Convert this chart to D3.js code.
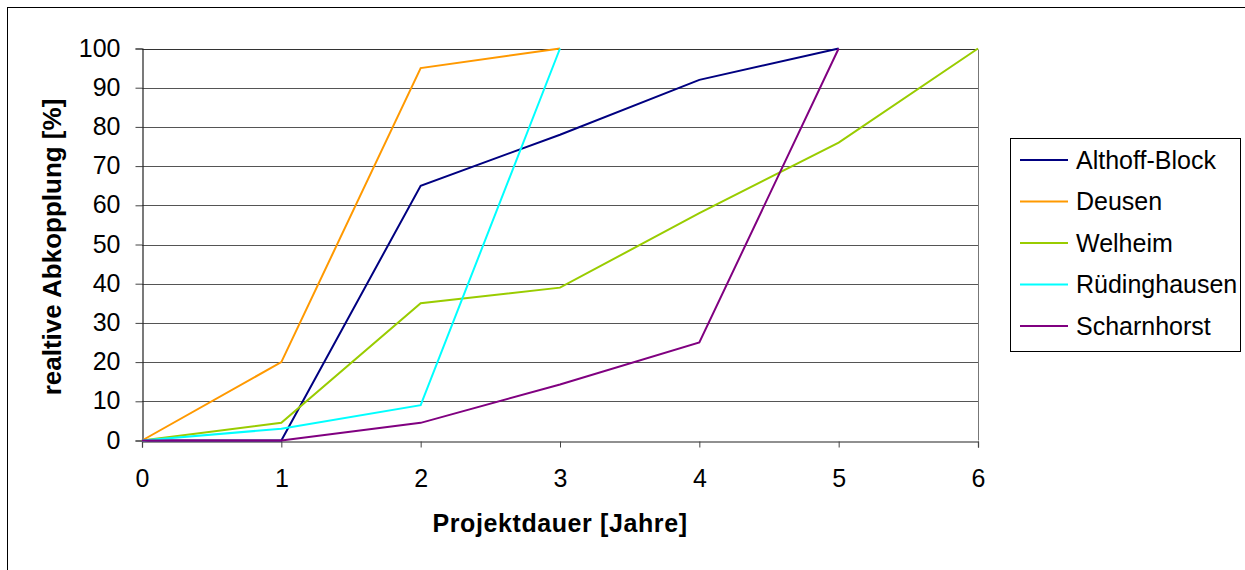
<!DOCTYPE html>
<html><head><meta charset="utf-8">
<script src="https://cdn.jsdelivr.net/npm/d3@7"></script>
<style>body{margin:0;background:#fff;} svg{display:block;font-family:"Liberation Sans",Arial,sans-serif;}</style>
</head><body><svg id="c" width="1245" height="570"></svg>
<script>
const years = [0,1,2,3,4,5,6];
const seriesNames = ["Althoff-Block","Deusen","Welheim","Rüdinghausen","Scharnhorst"];
const althoff = [0,0,65,78,92,100];
const deusen = [0,20,95,100];
const welheim = [0,4.5,35,39,58,76,100];
const ruedinghausen = [0,3,9,100];
const scharnhorst = [0,0,4.5,14.3,25,100];
const seriesColors = ["#000080","#FF9900","#99CC00","#00FFFF","#800080"];
const yTicks = [0,10,20,30,40,50,60,70,80,90,100];
const xTitle = "Projektdauer [Jahre]";
const yTitle = "realtive Abkopplung [%]";

const allSeries = [althoff,deusen,welheim,ruedinghausen,scharnhorst];
const svg = d3.select("#c");
const L=142,R=978,T=48.5,B=440.5;
const x = d3.scaleLinear().domain([0,6]).range([L,R]);
const y = d3.scaleLinear().domain([0,100]).range([B,T]);

// outer border
svg.append("rect").attr("x",7.5).attr("y",7.5).attr("width",1300).attr("height",600).attr("fill","none").attr("stroke","#000").attr("stroke-width",1);

// gridlines
svg.append("g").selectAll("line").data(yTicks.filter(d=>d>0)).join("line")
  .attr("x1",L).attr("x2",R).attr("y1",d=>Math.round(y(d))+0.5).attr("y2",d=>Math.round(y(d))+0.5)
  .attr("stroke","#555").attr("stroke-width",1);
// right border
svg.append("line").attr("x1",R+0.5).attr("x2",R+0.5).attr("y1",Math.round(T)+0.5).attr("y2",B).attr("stroke","#777");
svg.append("line").attr("x1",L).attr("x2",R).attr("y1",Math.round(T)+0.5).attr("y2",Math.round(T)+0.5).attr("stroke","#333");

// axes
const yAxis = d3.axisLeft(y).tickValues(yTicks).tickSize(7).tickPadding(15);
const gy = svg.append("g").attr("transform",`translate(${L+0.5},0)`).call(yAxis);
const xAxis = d3.axisBottom(x).tickValues(years).tickSize(6).tickPadding(22).tickFormat(d3.format("d"));
const gx = svg.append("g").attr("transform",`translate(0,${Math.round(B)+0.5})`).call(xAxis);
[gy,gx].forEach(g=>{
  g.attr("font-size",25).attr("font-family","Liberation Sans, Arial, sans-serif");
  g.select(".domain").attr("stroke","#222").attr("stroke-width",1.2);
  g.selectAll(".tick line").attr("stroke","#444");
  g.selectAll("text").attr("fill","#000");
});
gy.selectAll(".tick text").attr("dy","0.3em");

// lines
const line = d3.line().x((d,i)=>x(years[i])).y(d=>y(d));
svg.append("g").selectAll("path").data(allSeries).join("path")
  .attr("d",d=>line(d)).attr("fill","none")
  .attr("stroke",(d,i)=>seriesColors[i]).attr("stroke-width",2).attr("stroke-linejoin","miter");

// titles
svg.append("text").attr("x",560).attr("y",532).attr("text-anchor","middle")
  .attr("font-size",25).attr("font-weight","bold").attr("letter-spacing",0.6).text(xTitle);
svg.append("text").attr("transform","translate(61,247) rotate(-90)").attr("text-anchor","middle")
  .attr("font-size",26).attr("font-weight","bold").text(yTitle);

// legend
const lg = svg.append("g");
lg.append("rect").attr("x",1010.5).attr("y",138.5).attr("width",230).attr("height",213)
  .attr("fill","#fff").attr("stroke","#000");
seriesNames.forEach((n,i)=>{
  const cy = 160 + i*41.5;
  lg.append("line").attr("x1",1020).attr("x2",1068).attr("y1",cy).attr("y2",cy)
    .attr("stroke",seriesColors[i]).attr("stroke-width",2);
  lg.append("text").attr("x",1076).attr("y",cy).attr("dy","0.35em").attr("font-size",25).text(n);
});
</script></body></html>
